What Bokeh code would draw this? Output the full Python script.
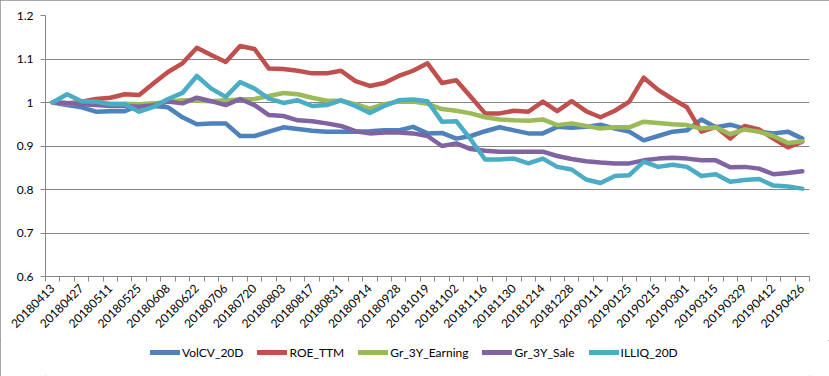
import math
from bokeh.plotting import figure
from bokeh.layouts import column
from bokeh.models import (ColumnDataSource, FixedTicker, Legend, LegendItem,
                          CustomJSTickFormatter, Range1d)
from bokeh.embed import file_html
from bokeh.resources import INLINE

dates = ["20180413","20180420","20180427","20180504","20180511","20180518","20180525",
         "20180601","20180608","20180615","20180622","20180629","20180706","20180713",
         "20180720","20180727","20180803","20180810","20180817","20180824","20180831",
         "20180907","20180914","20180921","20180928","20181012","20181019","20181026",
         "20181102","20181109","20181116","20181123","20181130","20181207","20181214",
         "20181221","20181228","20190104","20190111","20190118","20190125","20190201",
         "20190215","20190222","20190301","20190308","20190315","20190322","20190329",
         "20190405","20190412","20190419","20190426"]

volcv_20d = [1.0, 0.994, 0.989, 0.979, 0.98, 0.98, 0.994, 0.992, 0.989, 0.966,
             0.95, 0.952, 0.952, 0.923, 0.923, 0.933, 0.943, 0.939, 0.935, 0.933,
             0.933, 0.933, 0.934, 0.936, 0.936, 0.944, 0.929, 0.93, 0.917, 0.923,
             0.934, 0.943, 0.936, 0.929, 0.929, 0.944, 0.942, 0.944, 0.949, 0.94,
             0.933, 0.913, 0.923, 0.933, 0.936, 0.961, 0.943, 0.949, 0.94, 0.933,
             0.929, 0.933, 0.917]
roe_ttm = [1.0, 0.998, 1.002, 1.008, 1.011, 1.019, 1.017, 1.044, 1.07, 1.09,
           1.126, 1.109, 1.093, 1.13, 1.123, 1.078, 1.077, 1.073, 1.067, 1.067,
           1.073, 1.049, 1.038, 1.045, 1.061, 1.073, 1.09, 1.045, 1.051, 1.013,
           0.975, 0.975, 0.981, 0.979, 1.002, 0.98, 1.003, 0.98, 0.966, 0.981,
           1.002, 1.057, 1.029, 1.008, 0.989, 0.933, 0.944, 0.917, 0.946, 0.938,
           0.917, 0.897, 0.91]
gr_3y_earning = [1.0, 0.998, 0.997, 0.998, 0.997, 0.997, 0.996, 0.998, 1.002, 1.005,
                 1.004, 1.003, 1.005, 1.007, 1.008, 1.015, 1.022, 1.019, 1.011, 1.004,
                 1.004, 0.996, 0.986, 0.996, 1.002, 1.002, 0.997, 0.985, 0.981, 0.975,
                 0.966, 0.961, 0.959, 0.958, 0.961, 0.948, 0.952, 0.946, 0.94, 0.943,
                 0.943, 0.956, 0.953, 0.95, 0.948, 0.94, 0.943, 0.927, 0.938, 0.933,
                 0.923, 0.907, 0.911]
gr_3y_sale = [1.0, 0.999, 0.996, 0.994, 0.992, 0.992, 0.99, 0.994, 1.002, 0.998,
              1.011, 1.003, 0.994, 1.008, 0.994, 0.971, 0.969, 0.959, 0.957, 0.952,
              0.946, 0.934, 0.929, 0.931, 0.931, 0.929, 0.923, 0.9, 0.906, 0.893,
              0.889, 0.887, 0.887, 0.887, 0.887, 0.877, 0.87, 0.865, 0.862, 0.86,
              0.86, 0.867, 0.871, 0.873, 0.871, 0.867, 0.867, 0.851, 0.852, 0.848,
              0.835, 0.838, 0.842]
illiq_20d = [1.0, 1.019, 1.003, 1.002, 0.996, 0.996, 0.979, 0.99, 1.008, 1.022,
             1.061, 1.032, 1.013, 1.047, 1.032, 1.009, 0.999, 1.005, 0.992, 0.994,
             1.005, 0.992, 0.976, 0.992, 1.005, 1.007, 1.003, 0.956, 0.957, 0.915,
             0.869, 0.869, 0.871, 0.86, 0.871, 0.852, 0.846, 0.823, 0.815, 0.831,
             0.833, 0.864, 0.852, 0.857, 0.852, 0.831, 0.835, 0.818, 0.822, 0.824,
             0.809, 0.807, 0.802]

series_names = ["VolCV_20D", "ROE_TTM", "Gr_3Y_Earning", "Gr_3Y_Sale", "ILLIQ_20D"]
series_vals = [volcv_20d, roe_ttm, gr_3y_earning, gr_3y_sale, illiq_20d]
colors = ["#4F81BD", "#C0504D", "#9BBB59", "#8064A2", "#4BACC6"]
y_ticks = [0.6, 0.7, 0.8, 0.9, 1.0, 1.1, 1.2]

FONT = "Lato"
FS = "12px"
GRAY = "#868686"

n = len(dates)
xs = list(range(n))
src = ColumnDataSource(dict(x=xs, **{nm: v for nm, v in zip(series_names, series_vals)}))

# ---- main chart ----
p = figure(width=829, height=340, output_backend="svg", toolbar_location=None,
           x_range=Range1d(-0.5, n - 0.5), y_range=Range1d(0.6, 1.2),
           min_border_left=45, min_border_right=20, min_border_top=15,
           min_border_bottom=64)
p.outline_line_color = None
p.background_fill_color = "white"
p.border_fill_color = "white"

for nm, c in zip(series_names, colors):
    p.line("x", nm, source=src, line_color=c, line_width=4.5,
           line_join="round", line_cap="round")

label_idx = list(range(0, n, 2))
p.xaxis.ticker = FixedTicker(ticks=label_idx,
                             minor_ticks=[i - 0.5 for i in range(n + 1)])
p.xaxis.major_label_overrides = {i: dates[i] for i in label_idx}
p.xaxis.major_label_orientation = math.pi / 4
p.xaxis.major_tick_out = 0
p.xaxis.major_tick_in = 0
p.xaxis.minor_tick_out = 5
p.xaxis.minor_tick_in = 0
p.xaxis.axis_line_color = GRAY
p.xaxis.minor_tick_line_color = GRAY
p.xaxis.major_label_text_font = FONT
p.xaxis.major_label_text_font_size = FS
p.xaxis.major_label_text_color = "#000000"
p.xaxis.major_label_standoff = 5
p.xgrid.grid_line_color = None

p.yaxis.ticker = FixedTicker(ticks=y_ticks)
p.yaxis.formatter = CustomJSTickFormatter(code="return String(Math.round(tick*10)/10);")
p.yaxis.major_tick_out = 5
p.yaxis.major_tick_in = 0
p.yaxis.minor_tick_line_color = None
p.yaxis.axis_line_color = GRAY
p.yaxis.major_tick_line_color = GRAY
p.yaxis.major_label_text_font = FONT
p.yaxis.major_label_text_font_size = FS
p.yaxis.major_label_text_color = "#000000"
p.yaxis.major_label_standoff = 7
p.ygrid.grid_line_color = GRAY
p.ygrid.grid_line_width = 1

# ---- legend strip (same series, ranges chosen so only the legend shows) ----
p2 = figure(width=829, height=36, output_backend="svg", toolbar_location=None,
            x_range=Range1d(-0.5, n - 0.5), y_range=Range1d(10, 11),
            min_border_left=0, min_border_right=0, min_border_top=0,
            min_border_bottom=0)
p2.axis.visible = False
p2.grid.visible = False
p2.outline_line_color = None
p2.border_fill_color = "white"
leg_renderers = []
for nm, c in zip(series_names, colors):
    r = p2.line("x", nm, source=src, line_color=c, line_width=5,
                line_join="round", line_cap="round")
    leg_renderers.append(r)

legend = Legend(items=[LegendItem(label=nm, renderers=[r]) for nm, r in zip(series_names, leg_renderers)],
                orientation="horizontal", location=(105, 16),
                glyph_width=30, glyph_height=16, label_standoff=2, spacing=14,
                padding=0, margin=0, border_line_color=None,
                background_fill_alpha=0,
                label_text_font=FONT, label_text_font_size=FS,
                label_text_color="#000000")
p2.add_layout(legend, "center")

layout = column(p, p2, spacing=0)
layout.styles = {"outline": "1px solid #8c8c8c", "outline-offset": "-1px"}

open("out.html", "w").write(file_html(layout, INLINE))
